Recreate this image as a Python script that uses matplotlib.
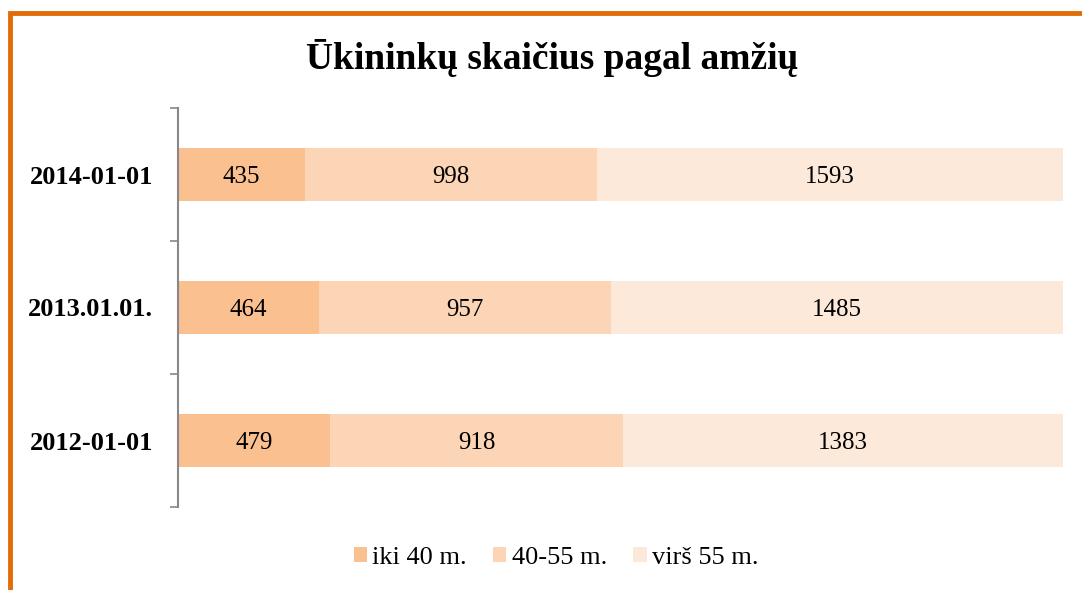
import matplotlib
matplotlib.use("Agg")
import matplotlib.pyplot as plt
from matplotlib.patches import Rectangle
import numpy as np

categories = ["2012-01-01", "2013.01.01.", "2014-01-01"]
series_names = ["iki 40 m.", "40-55 m.", "virš 55 m."]
iki40 = [479, 464, 435]
m40_55 = [918, 957, 998]
virs55 = [1383, 1485, 1593]
colors = ["#FAC090", "#FBD5B5", "#FDE9D9"]

plt.rcParams['font.family'] = ['Liberation Serif', 'DejaVu Serif']

fig = plt.figure(figsize=(10.82, 5.9), dpi=100)
W, H = 1082, 590
ax = fig.add_axes([178 / W, 1 - 507 / H, (1063 - 178) / W, (507 - 108) / H])

data = np.array([iki40, m40_55, virs55], dtype=float)
totals = data.sum(axis=0)
shares = data / totals
y = np.arange(len(categories))
left = np.zeros(len(categories))
for i, name in enumerate(series_names):
    bars = ax.barh(y, shares[i], left=left, height=0.4, color=colors[i], label=name, edgecolor='none')
    for j, b in enumerate(bars):
        ax.text(left[j] + shares[i][j] / 2, y[j], f"{int(data[i][j])}", ha='center', va='center_baseline',
                fontsize=18, color='black')
    left += shares[i]

ax.set_xlim(0, 1)
ax.set_ylim(-0.5, len(categories) - 0.5)
ax.set_yticks(np.arange(-0.5, len(categories), 1.0))
ax.set_yticks(y, minor=True)
ax.set_yticklabels([])
ax.set_yticklabels(categories, minor=True, fontsize=19, fontweight='bold')
ax.tick_params(axis='y', which='major', length=6, color='#888888', width=1.2, direction='out')
ax.tick_params(axis='y', which='minor', length=0, pad=18)
ax.set_xticks([])
for s in ['top', 'right', 'bottom']:
    ax.spines[s].set_visible(False)
ax.spines['left'].set_color('#888888')
ax.spines['left'].set_linewidth(1.5)

fig.text(552 / W, 1 - 58 / H, "Ūkininkų skaičius pagal amžių", ha='center', va='center', fontsize=27, fontweight='bold')

handles, labels = ax.get_legend_handles_labels()
fig.legend(handles, labels, loc='center', bbox_to_anchor=(556 / W, 1 - 558 / H), ncol=3, frameon=False,
           fontsize=19, handlelength=0.5, handleheight=0.5, handletextpad=0.2, columnspacing=1.0)

# orange border (top and left visible)
fig.patches.append(Rectangle((10 / W, -0.1), 1.2, 1 - 13 / H + 0.1, transform=fig.transFigure, fill=False,
                             edgecolor='#E36C0A', linewidth=3.5))

fig.savefig("out.png", dpi=100)
